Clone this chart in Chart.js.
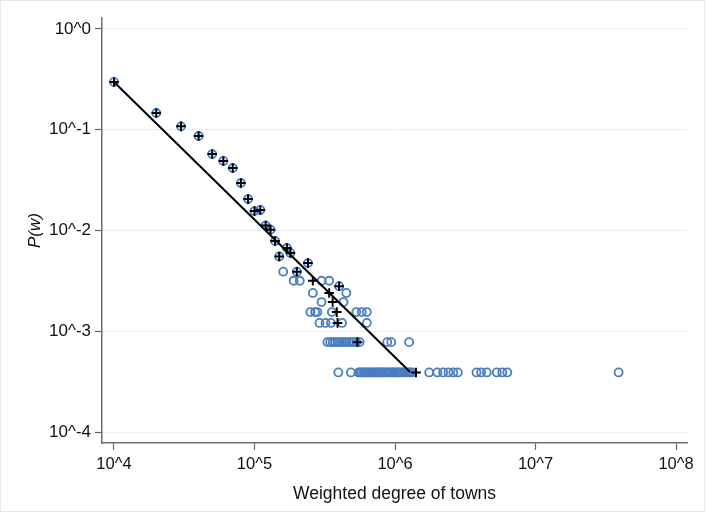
<!DOCTYPE html>
<html>
<head>
<meta charset="utf-8">
<script src="https://cdn.jsdelivr.net/npm/chart.js@4.4.0/dist/chart.umd.min.js"></script>
<style>
html,body{margin:0;padding:0;background:#fff;}
#wrap{width:706px;height:517px;position:relative;}
</style>
</head>
<body>
<div id="wrap"><canvas id="c" width="706" height="517"></canvas></div>
<script>
// Tick positions and labels
const xTickValues = [1e4, 1e5, 1e6, 1e7, 1e8];
const xTickLabels = ['10^4', '10^5', '10^6', '10^7', '10^8'];
const yTickValues = [1e-4, 1e-3, 1e-2, 1e-1, 1];
const yTickLabels = ['10^-4', '10^-3', '10^-2', '10^-1', '10^0'];

// Blue hollow circles: weighted degree (x) and P(w) (y)
const circleX = [
  10000, 20000, 30000, 40000, 50000, 60000, 70000, 80000, 90000, 100000,
  110000, 120000, 130000, 140000, 150000, 170000, 180000,
  160000, 200000,
  240000,
  190000, 210000, 300000, 340000,
  400000,
  260000, 450000,
  300000, 430000,
  250000, 270000, 280000, 355000, 530000, 580000, 630000,
  290000, 320000, 350000, 420000, 630000,
  330000, 345000, 360000, 375000, 390000, 405000, 420000, 435000, 450000, 470000, 490000, 510000, 530000, 560000,
  880000, 940000, 1260000,
  395000, 485000,
  550000, 565000, 580000, 600000, 615000, 630000, 650000, 670000, 690000, 710000, 730000, 750000, 770000,
  790000, 810000, 830000, 860000, 880000, 910000, 940000, 970000, 1000000, 1030000, 1060000, 1090000,
  1120000, 1160000, 1200000, 1240000, 1280000, 1320000,
  1750000, 2000000, 2200000, 2400000, 2600000, 2800000, 3800000, 4100000, 4500000,
  5300000, 5800000, 6300000, 39000000
];
const circleY = [
  0.298, 0.1466, 0.108, 0.0867, 0.0574, 0.049, 0.0417, 0.0296, 0.0205, 0.0156,
  0.016, 0.0112, 0.0102, 0.00787, 0.00552, 0.0067, 0.00598,
  0.0039, 0.0039,
  0.00475,
  0.00317, 0.00317, 0.00317, 0.00317,
  0.0028,
  0.0024, 0.0024,
  0.00195, 0.00195,
  0.00155, 0.00155, 0.00155, 0.00155, 0.00155, 0.00155, 0.00155,
  0.00121, 0.00121, 0.00121, 0.00121, 0.00121,
  0.00078, 0.00078, 0.00078, 0.00078, 0.00078, 0.00078, 0.00078, 0.00078, 0.00078, 0.00078, 0.00078, 0.00078, 0.00078, 0.00078,
  0.00078, 0.00078, 0.00078,
  0.00039, 0.00039,
  0.00039, 0.00039, 0.00039, 0.00039, 0.00039, 0.00039, 0.00039, 0.00039, 0.00039, 0.00039, 0.00039, 0.00039, 0.00039,
  0.00039, 0.00039, 0.00039, 0.00039, 0.00039, 0.00039, 0.00039, 0.00039, 0.00039, 0.00039, 0.00039, 0.00039,
  0.00039, 0.00039, 0.00039, 0.00039, 0.00039, 0.00039,
  0.00039, 0.00039, 0.00039, 0.00039, 0.00039, 0.00039, 0.00039, 0.00039, 0.00039,
  0.00039, 0.00039, 0.00039, 0.00039
];

// Black plus markers
const plusX = [
  10000, 20000, 30000, 40000, 50000, 60000, 70000, 80000, 90000, 100000,
  110000, 120000, 130000, 140000, 150000, 170000, 180000,
  200000, 240000, 260000, 400000, 340000, 360000, 385000, 390000, 540000, 1410000
];
const plusY = [
  0.298, 0.1466, 0.108, 0.0867, 0.0574, 0.049, 0.0417, 0.0296, 0.0205, 0.0156,
  0.016, 0.0112, 0.0102, 0.00787, 0.00552, 0.0067, 0.00598,
  0.0039, 0.00475, 0.00317, 0.0028, 0.0024, 0.00195, 0.00155, 0.00121, 0.00078, 0.00039
];

// Fitted power-law line (end points)
const fitX = [10000, 1280000];
const fitY = [0.298, 0.000394];

const toPts = (xs, ys) => xs.map((x, i) => ({x: x, y: ys[i]}));
const labelFor = (vals, labels, v) => {
  const i = vals.findIndex(t => Math.abs(Math.log10(t) - Math.log10(v)) < 1e-6);
  return i >= 0 ? labels[i] : '';
};

const framePlugin = {
  id: 'frame',
  beforeDraw(chart) {
    const ctx = chart.ctx;
    ctx.save();
    ctx.fillStyle = '#ffffff';
    ctx.fillRect(0, 0, chart.width, chart.height);
    ctx.strokeStyle = '#e3eaee';
    ctx.lineWidth = 1;
    ctx.strokeRect(0.5, 0.5, 704, 511);
    ctx.restore();
  }
};

Chart.defaults.font.family = '"Liberation Sans", Arial, sans-serif';
Chart.defaults.color = '#000';

new Chart(document.getElementById('c'), {
  type: 'scatter',
  data: {
    datasets: [
      {
        type: 'line',
        data: toPts(fitX, fitY),
        borderColor: '#000',
        borderWidth: 2,
        pointRadius: 0,
        fill: false,
        tension: 0
      },
      {
        data: toPts(plusX, plusY),
        pointStyle: 'cross',
        pointRadius: 4.8,
        borderColor: '#000',
        borderWidth: 2,
        backgroundColor: '#000'
      },
      {
        data: toPts(circleX, circleY),
        pointStyle: 'circle',
        pointRadius: 4,
        borderColor: '#4a7dc0',
        borderWidth: 1.8,
        backgroundColor: 'rgba(0,0,0,0)'
      }
    ]
  },
  options: {
    responsive: false,
    animation: false,
    devicePixelRatio: 1,
    layout: { padding: { left: 0, right: 19, top: 18, bottom: 0 } },
    plugins: { legend: { display: false }, tooltip: { enabled: false } },
    scales: {
      x: {
        type: 'logarithmic',
        position: 'bottom',
        min: Math.pow(10, 3.9146),
        max: Math.pow(10, 8.078),
        afterBuildTicks(s) { s.ticks = xTickValues.map(v => ({value: v})); },
        afterFit(s) { s.height = 74; },
        grid: { drawOnChartArea: false, drawTicks: true, tickLength: 7, tickColor: '#666', tickWidth: 1.2 },
        border: { display: true, color: '#6e6e6e', width: 1.5 },
        ticks: {
          autoSkip: false, maxRotation: 0, padding: 5,
          font: { size: 16.5 }, color: '#111',
          callback: (v) => labelFor(xTickValues, xTickLabels, v)
        },
        title: {
          display: true, text: 'Weighted degree of towns',
          font: { size: 17.5 }, color: '#111',
          padding: { top: 0, bottom: 12 }
        }
      },
      y: {
        type: 'logarithmic',
        position: 'left',
        min: Math.pow(10, -4.109),
        max: Math.pow(10, 0.109),
        afterBuildTicks(s) { s.ticks = yTickValues.map(v => ({value: v})); },
        afterFit(s) { s.width = 102; },
        grid: { drawOnChartArea: true, color: '#e8eff1', lineWidth: 1, drawTicks: true, tickLength: 7, tickColor: '#666', tickWidth: 1.2 },
        border: { display: true, color: '#6e6e6e', width: 1.5 },
        ticks: {
          autoSkip: false, padding: 4,
          font: { size: 17 }, color: '#111',
          callback: (v) => labelFor(yTickValues, yTickLabels, v)
        },
        title: {
          display: true, text: 'P(w)',
          font: { size: 17, style: 'italic' }, color: '#111',
          padding: { top: 25, bottom: 0 }
        }
      }
    }
  },
  plugins: [framePlugin]
});
</script>
</body>
</html>
